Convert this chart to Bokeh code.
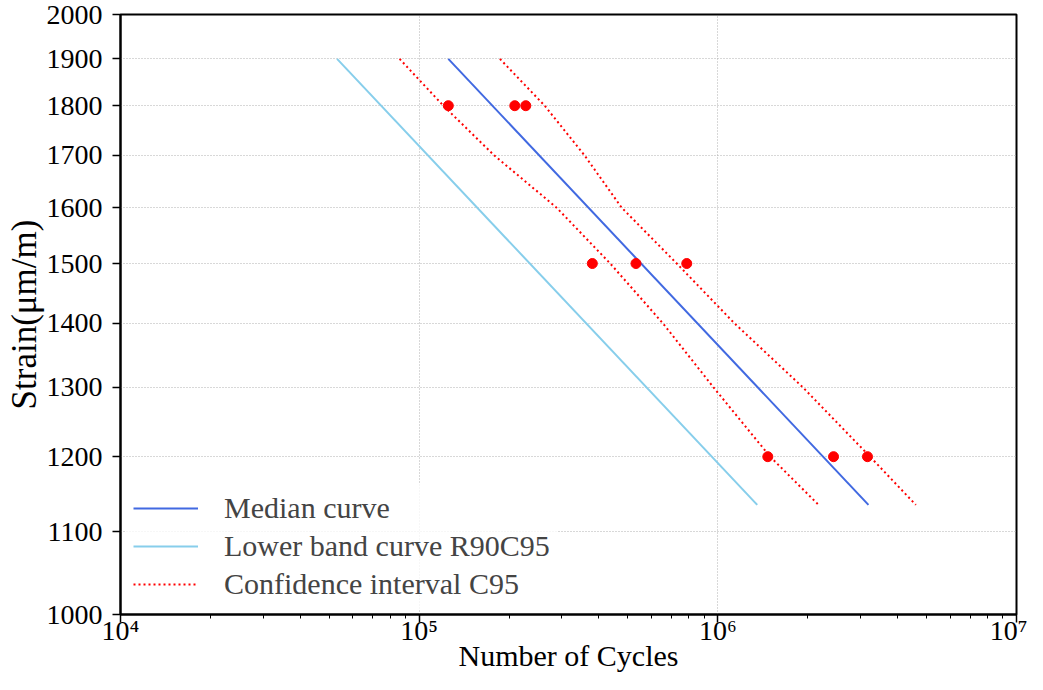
from bokeh.plotting import figure
from bokeh.models import FixedTicker, Legend, LegendItem, PrintfTickFormatter
from bokeh.embed import file_html
from bokeh.resources import INLINE

# ---- data ----
ci_strain = [1900, 1800, 1700, 1600, 1500, 1400, 1300, 1200, 1135]
ci_lower_cycles = [8.60e4, 1.205e5, 1.78e5, 2.885e5, 4.362e5, 6.546e5, 9.674e5, 1.497e6, 2.174e6]
ci_upper_cycles = [1.864e5, 2.632e5, 3.574e5, 4.764e5, 7.287e5, 1.136e6, 1.927e6, 3.234e6, 4.603e6]

median_strain = [1900, 1135]
median_cycles = [1.252e5, 3.194e6]

lower_band_strain = [1900, 1135]
lower_band_cycles = [5.31e4, 1.355e6]

test_strain = [1800, 1800, 1800, 1500, 1500, 1500, 1200, 1200, 1200]
test_cycles = [1.252e5, 2.09e5, 2.275e5, 3.80e5, 5.32e5, 7.87e5, 1.47e6, 2.44e6, 3.17e6]

x_major_ticks = [1e4, 1e5, 1e6, 1e7]
x_tick_labels = {10000: "10\u2074", 100000: "10\u2075", 1000000: "10\u2076", 10000000: "10\u2077"}
x_minor_ticks = [m * 10 ** d for d in (4, 5, 6) for m in range(2, 10)]
y_ticks = [1000, 1100, 1200, 1300, 1400, 1500, 1600, 1700, 1800, 1900, 2000]

FONT = "Liberation Serif"

p = figure(
    x_axis_type="log", y_axis_type="log",
    x_range=(1e4, 1e7), y_range=(1000, 2000),
    width=1027, height=674,
    min_border_left=120, min_border_right=11, min_border_top=14, min_border_bottom=60,
    output_backend="svg", toolbar_location=None,
    background_fill_color="white", border_fill_color="white",
)

r_median = p.line(median_cycles, median_strain, line_color="#4169E1", line_width=2)
r_lower = p.line(lower_band_cycles, lower_band_strain, line_color="#87CEEB", line_width=2)
r_ci_lo = p.line(ci_lower_cycles, ci_strain, line_color="red", line_width=2, line_dash="2 3")
r_ci_hi = p.line(ci_upper_cycles, ci_strain, line_color="red", line_width=2, line_dash="2 3")
p.scatter(test_cycles, test_strain, size=10, fill_color="red", line_color="red")

# axes
p.xaxis.ticker = FixedTicker(ticks=x_major_ticks, minor_ticks=x_minor_ticks)
p.xaxis.major_label_overrides = x_tick_labels
p.yaxis.ticker = FixedTicker(ticks=y_ticks, minor_ticks=[])
p.yaxis.formatter = PrintfTickFormatter(format="%d")

for ax in (p.xaxis[0], p.yaxis[0]):
    ax.axis_line_color = "black"
    ax.axis_line_width = 2
    ax.major_tick_line_color = "black"
    ax.major_tick_line_width = 1.5
    ax.minor_tick_line_color = "black"
    ax.minor_tick_line_width = 1
    ax.major_tick_in = 0
    ax.major_tick_out = 8
    ax.minor_tick_in = 0
    ax.minor_tick_out = 4
    ax.major_label_text_font = FONT
    ax.major_label_text_font_size = "28px"
    ax.major_label_text_color = "black"
    ax.axis_label_text_font = FONT
    ax.axis_label_text_font_size = "30px"
    ax.axis_label_text_font_style = "normal"
    ax.axis_label_text_color = "black"

p.xaxis.axis_label = "Number of Cycles"
p.yaxis.axis_label = "Strain(\u03bcm/m)"
p.yaxis.axis_label_text_font_size = "35px"
p.xaxis.major_label_standoff = -8
p.xaxis.axis_label_standoff = -10
p.yaxis.major_label_standoff = 10
p.yaxis.axis_label_standoff = 0

p.outline_line_color = "black"
p.outline_line_width = 2
p.outline_line_alpha = 1

for g in (p.xgrid[0], p.ygrid[0]):
    g.grid_line_color = "#b0b0b0"
    g.grid_line_width = 1
    g.grid_line_dash = "1 2"

legend = Legend(
    items=[
        LegendItem(label="Median curve", renderers=[r_median]),
        LegendItem(label="Lower band curve R90C95", renderers=[r_lower]),
        LegendItem(label="Confidence interval C95", renderers=[r_ci_lo]),
    ],
    location="bottom_left",
    label_text_font=FONT, label_text_font_size="30px",
    glyph_width=65, glyph_height=20, label_standoff=26,
    spacing=4, padding=8, margin=5,
    background_fill_color="white", background_fill_alpha=0.8,
    border_line_alpha=0,
)
p.add_layout(legend)

open("out.html", "w").write(file_html(p, INLINE))
